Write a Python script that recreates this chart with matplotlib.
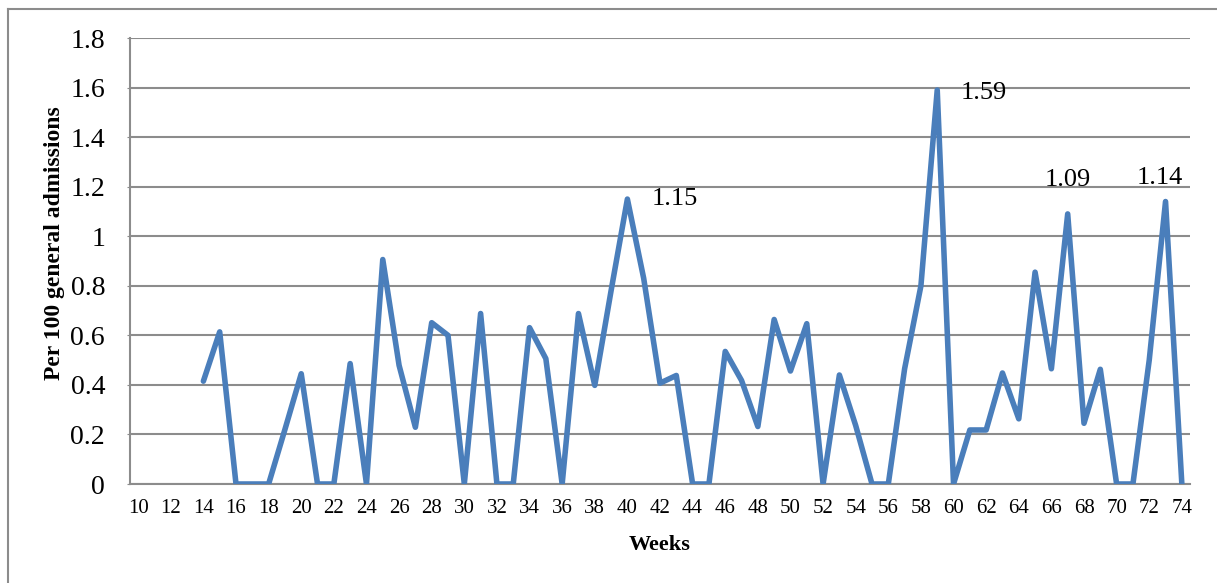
import numpy as np
import matplotlib
matplotlib.use("Agg")
import matplotlib.pyplot as plt
from matplotlib.lines import Line2D

matplotlib.rcParams.update({
    'font.family': 'Liberation Serif',
    'font.size': 19,
})

# weeks shown on the category axis
weeks = list(range(10, 75))
# data starts in week 14
data_weeks = list(range(14, 75))
rate = [0.415, 0.614, 0, 0, 0, 0.22, 0.445, 0, 0, 0.486,
        0, 0.906, 0.479, 0.229, 0.651, 0.60, 0, 0.688, 0, 0,
        0.631, 0.506, 0, 0.688, 0.398, 0.78, 1.15, 0.83, 0.407, 0.438,
        0, 0, 0.535, 0.418, 0.232, 0.664, 0.456, 0.647, 0, 0.44,
        0.236, 0, 0, 0.465, 0.80, 1.59, 0, 0.218, 0.218, 0.448,
        0.263, 0.855, 0.465, 1.09, 0.245, 0.463, 0, 0, 0.50, 1.14,
        0]
# peaks with a value label: (week, text, offset in px, alignment)
peak_labels = [(40, '1.15', (24, 0), 'left'),
               (59, '1.59', (23, -3), 'left'),
               (67, '1.09', (0, 34), 'center'),
               (73, '1.14', (-6, 24), 'center')]

fig = plt.figure(figsize=(12.17, 5.83), dpi=100)
ax = fig.add_axes([130 / 1217, 1 - 484 / 583, 1060 / 1217, 446 / 583])

grid_c = '#8c8c8c'
ax.plot(data_weeks, rate, color='#4a7ebb', lw=4.0, solid_joinstyle='round',
        solid_capstyle='round', zorder=3)

ax.set_xlim(9.5, 74.5)
ax.set_ylim(0, 1.8)
ax.set_yticks(np.arange(0, 1.81, 0.2))
ax.set_yticklabels(['0', '0.2', '0.4', '0.6', '0.8', '1', '1.2', '1.4', '1.6', '1.8'],
                   fontsize=20)
ax.set_xticks(weeks[::2])
ax.set_xticklabels([str(w) for w in weeks[::2]], fontsize=15)
ax.yaxis.grid(True, color=grid_c, lw=1.5)
ax.set_axisbelow(True)
for s in ['top', 'right']:
    ax.spines[s].set_visible(False)
ax.spines['left'].set_color(grid_c)
ax.spines['left'].set_linewidth(1.5)
ax.spines['bottom'].set_color(grid_c)
ax.spines['bottom'].set_linewidth(1.5)
ax.tick_params(axis='x', length=0, pad=11)
ax.tick_params(axis='y', length=2, color=grid_c, pad=16)

ax.set_xlabel('Weeks', fontsize=16, fontweight='bold', labelpad=12)
ax.set_ylabel('Per 100 general admissions', fontsize=17, fontweight='bold',
              va='center')
ax.yaxis.set_label_coords(-0.0708, 0.54)

for wk, txt, off, ha in peak_labels:
    y = rate[data_weeks.index(wk)]
    ax.annotate(txt, xy=(wk, y), xytext=(off[0] * 0.72, off[1] * 0.72),
                textcoords='offset points', ha=ha, va='center', fontsize=19)

# outer chart frame (cropped at right and bottom)
fig.add_artist(Line2D([8 / 1217, 8 / 1217], [0, 1 - 9 / 583], color=grid_c, lw=1.5))
fig.add_artist(Line2D([8 / 1217, 1], [1 - 9 / 583, 1 - 9 / 583], color=grid_c, lw=1.5))

plt.savefig('out.png', dpi=100)
